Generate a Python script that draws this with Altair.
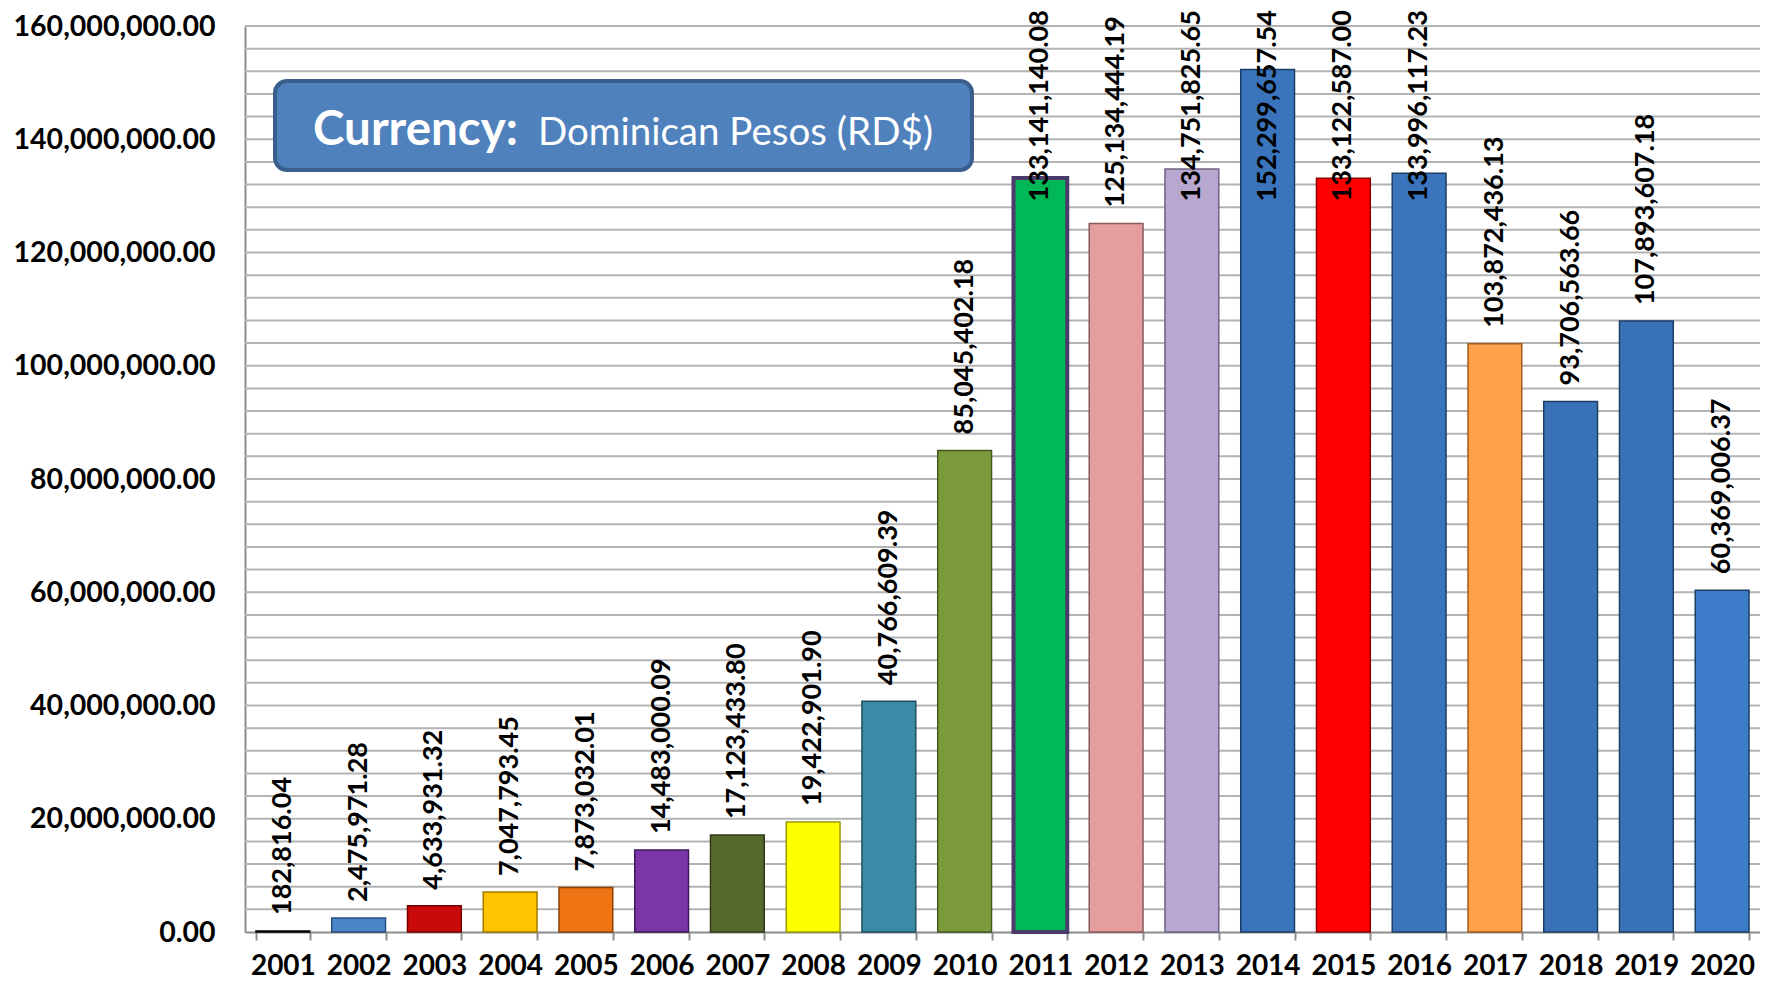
import altair as alt
import pandas as pd

years = [str(y) for y in range(2001, 2021)]
values = [182816.04, 2475971.28, 4633931.32, 7047793.45, 7873032.01,
          14483000.09, 17123433.80, 19422901.90, 40766609.39, 85045402.18,
          133141140.08, 125134444.19, 134751825.65, 152299657.54, 133122587.00,
          133996117.23, 103872436.13, 93706563.66, 107893607.18, 60369006.37]
bar_colors = ["#1f1f1f", "#4a86c8", "#c80a0a", "#ffc400", "#ee7414",
              "#7a35a8", "#576a2e", "#ffff00", "#3a8ba5", "#7a9a3c",
              "#00b856", "#e59e9e", "#b8a8d0", "#3a74bc", "#ff0000",
              "#3a74bc", "#ffa04a", "#3a72b8", "#3a72b8", "#3d7cc9"]
stroke_colors = ["#000000", "#2a4f80", "#7a0000", "#a07a00", "#8a4208",
                 "#3e1a58", "#2f3a18", "#9a9a00", "#1e4e5e", "#45591f",
                 "#4b3b6b", "#8a5a5a", "#6f6282", "#1d3e66", "#8a0000",
                 "#1d3e66", "#a05e22", "#1d3e66", "#1d3e66", "#1d3e66"]
grid_ticks = list(range(4000000, 160000001, 4000000))
label_ticks = list(range(0, 160000001, 20000000))

df = pd.DataFrame({"year": years, "value": values})
grid_df = pd.DataFrame({"g": grid_ticks})

W, H = 1515, 906
y_scale = alt.Scale(domain=[0, 160000000], nice=False)

gridlines = alt.Chart(grid_df).mark_rule(color="#b3b3b3", strokeWidth=2).encode(
    y=alt.Y("g:Q", scale=y_scale, title=None),
)

bars = alt.Chart(df).mark_bar().encode(
    x=alt.X("year:N", sort=years, title=None,
            scale=alt.Scale(paddingInner=0.29, paddingOuter=0.145),
            axis=alt.Axis(labelAngle=0, labelFont="Lato", labelFontWeight="bold",
                          labelFontSize=28, labelColor="black", labelPadding=12,
                          tickBand="extent", tickSize=8, tickColor="#8c8c8c",
                          tickWidth=2, domainColor="#8c8c8c", domainWidth=2,
                          grid=False)),
    y=alt.Y("value:Q", scale=y_scale, title=None,
            axis=alt.Axis(values=label_ticks, format=",.2f",
                          labelFont="Lato", labelFontWeight="bold", labelFontSize=28.5,
                          labelColor="black", labelPadding=30, ticks=False, tickSize=0,
                          labelLimit=0, labelOverlap=False, grid=False,
                          domainColor="#8c8c8c", domainWidth=2)),
    fill=alt.Fill("year:N", scale=alt.Scale(domain=years, range=bar_colors), legend=None),
    stroke=alt.Stroke("year:N", scale=alt.Scale(domain=years, range=stroke_colors), legend=None),
    strokeWidth=alt.condition(alt.datum.year == "2011", alt.value(4), alt.value(1.5)),
)

labels = alt.Chart(df).transform_calculate(
    label_pos="min(datum.value, 126200000)"
).mark_text(angle=270, align="left", baseline="middle", dx=16,
            font="Lato", fontWeight="bold", fontSize=27, color="black").encode(
    x=alt.X("year:N", sort=years, title=None),
    y=alt.Y("label_pos:Q", scale=y_scale, title=None),
    text=alt.Text("value:Q", format=",.2f"),
)

box_data = alt.Data(values=[{"k": 1}])
box = alt.Chart(box_data).mark_rect(cornerRadius=12, fill="#4f81bd",
                                    stroke="#3a5f8c", strokeWidth=4).encode(
    x=alt.value(30), x2=alt.value(727), y=alt.value(55), y2=alt.value(144))

t1 = alt.Chart(box_data).mark_text(text="Currency:", align="left", baseline="alphabetic",
                                   font="Lato", fontWeight="bold", fontSize=47.5,
                                   color="white").encode(x=alt.value(68), y=alt.value(119))
t2 = alt.Chart(box_data).mark_text(text="Dominican Pesos (RD$)", align="left",
                                   baseline="alphabetic", font="Lato", fontSize=38.5,
                                   color="white").encode(x=alt.value(293), y=alt.value(119))

chart = alt.layer(gridlines, bars, labels, box, t1, t2).properties(
    width=W, height=H,
    autosize=alt.AutoSizeParams(type="none"),
    padding={"left": 237, "top": 18, "right": 0, "bottom": 49},
).configure_view(stroke=None).configure(background="white")

chart.save("out.html", embed_options={"renderer": "svg", "actions": False})
